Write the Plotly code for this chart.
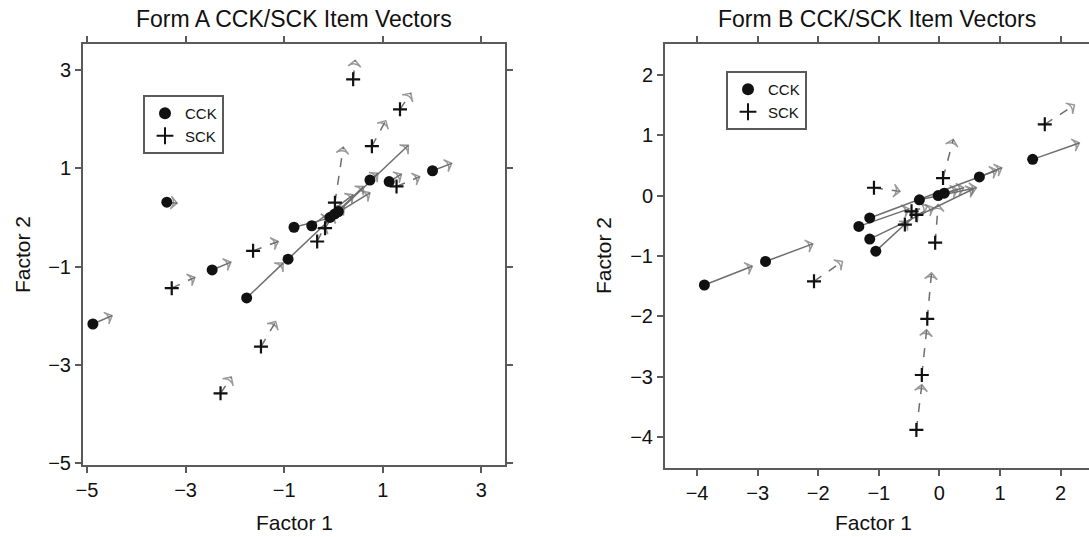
import plotly.graph_objects as go

# ---------------- data ----------------
# Form A : CCK items (start -> end of vector)
A_CCK_X0 = [-4.88, -3.38, -2.46, -1.76, -0.92, 0.74, -0.80, -0.44, -0.07, 0.03, 0.10, 1.13, 2.01]
A_CCK_Y0 = [-2.17, 0.31, -1.07, -1.64, -0.85, 0.76, -0.20, -0.17, 0.00, 0.07, 0.12, 0.73, 0.95]
A_CCK_X1 = [-4.49, -3.17, -2.08, -1.02, 1.52, 0.90, -0.10, 0.40, 0.74, 0.61, 0.22, 1.38, 2.40]
A_CCK_Y1 = [-2.00, 0.29, -0.91, -0.93, 1.47, 0.90, -0.02, 0.46, 0.50, 0.63, 0.22, 0.88, 1.10]
# Form A : SCK items
A_SCK_X0 = [-3.28, -1.63, -1.47, -2.29, -0.33, 0.40, 1.35, 0.78, 0.03, 1.28, -0.17]
A_SCK_Y0 = [-1.44, -0.68, -2.63, -3.58, -0.49, 2.81, 2.20, 1.45, 0.30, 0.63, -0.22]
A_SCK_X1 = [-2.81, -1.12, -1.17, -2.07, -0.17, 0.44, 1.57, 1.06, 0.20, 1.75, 0.00]
A_SCK_Y1 = [-1.22, -0.49, -2.12, -3.25, -0.17, 3.20, 2.53, 1.97, 1.43, 0.83, 0.05]

# Form B : CCK items
B_CCK_X0 = [-3.88, -2.87, -1.33, -1.15, -1.15, -1.05, -0.33, -0.02, 0.08, 0.66, 1.54]
B_CCK_Y0 = [-1.48, -1.09, -0.51, -0.37, -0.72, -0.92, -0.07, 0.00, 0.04, 0.31, 0.60]
B_CCK_X1 = [-3.09, -2.09, -0.50, 0.95, 0.56, -0.52, 0.61, 0.30, 0.40, 1.03, 2.31]
B_CCK_Y1 = [-1.17, -0.80, -0.22, 0.42, 0.11, -0.43, 0.13, 0.10, 0.13, 0.46, 0.87]
# Form B : SCK items
B_SCK_X0 = [-2.07, -0.38, -0.29, -0.20, -0.07, 0.06, -1.08, 1.74, -0.46, -0.38, -0.57]
B_SCK_Y0 = [-1.42, -3.88, -2.97, -2.04, -0.78, 0.29, 0.13, 1.18, -0.26, -0.32, -0.48]
B_SCK_X1 = [-1.60, -0.29, -0.21, -0.13, -0.02, 0.23, -0.65, 2.23, -0.20, -0.10, -0.35]
B_SCK_Y1 = [-1.09, -3.13, -2.22, -1.28, -0.15, 0.93, 0.07, 1.50, -0.18, -0.20, -0.30]

A_TICKS = [-5, -3, -1, 1, 3]
B_TICKS = [-4, -3, -2, -1, 0, 1, 2]
TITLES = ["Form A CCK/SCK Item Vectors", "Form B CCK/SCK Item Vectors"]
SERIES = ["CCK", "SCK"]

# ---------------- styling ----------------
FONT = "Liberation Sans, Arial, Helvetica, sans-serif"
ARROW_COLOR = "#6e6e6e"
AXIS_COLOR = "#5a5a5a"
W, H = 1089, 537

fig = go.Figure()


def add_vectors(x0, y0, x1, y1, xa, ya, dash):
    for a, b, c, d in zip(x0, y0, x1, y1):
        fig.add_trace(go.Scatter(
            x=[a, c], y=[b, d], xaxis=xa, yaxis=ya,
            mode="lines+markers",
            line=dict(color=ARROW_COLOR, width=1.5, dash=dash),
            marker=dict(symbol=["circle", "arrow-wide-open"], size=[0, 9],
                        angleref="previous",
                        color=ARROW_COLOR, line=dict(color=ARROW_COLOR, width=1.5)),
            showlegend=False, hoverinfo="skip"))


def add_points(x, y, xa, ya, kind, legend):
    if kind == "CCK":
        mk = dict(symbol="circle", size=11, color="#111111")
    else:
        mk = dict(symbol="cross-thin", size=10, color="#111111",
                  line=dict(color="#111111", width=2.2))
    fig.add_trace(go.Scatter(x=x, y=y, xaxis=xa, yaxis=ya, mode="markers",
                             marker=mk, name=kind, legend=legend))


add_vectors(A_CCK_X0, A_CCK_Y0, A_CCK_X1, A_CCK_Y1, "x", "y", "solid")
add_vectors(A_SCK_X0, A_SCK_Y0, A_SCK_X1, A_SCK_Y1, "x", "y", "dash")
add_vectors(B_CCK_X0, B_CCK_Y0, B_CCK_X1, B_CCK_Y1, "x2", "y2", "solid")
add_vectors(B_SCK_X0, B_SCK_Y0, B_SCK_X1, B_SCK_Y1, "x2", "y2", "dash")
add_points(A_CCK_X0, A_CCK_Y0, "x", "y", SERIES[0], "legend")
add_points(A_SCK_X0, A_SCK_Y0, "x", "y", SERIES[1], "legend")
add_points(B_CCK_X0, B_CCK_Y0, "x2", "y2", SERIES[0], "legend2")
add_points(B_SCK_X0, B_SCK_Y0, "x2", "y2", SERIES[1], "legend2")

axis_common = dict(showgrid=False, zeroline=False, showline=True, automargin=False,
                   linecolor=AXIS_COLOR, linewidth=2, ticks="outside",
                   ticklen=6, tickwidth=1.5, tickcolor=AXIS_COLOR,
                   tickfont=dict(family=FONT, size=20, color="#111111"))

legend_common = dict(bgcolor="white", bordercolor=AXIS_COLOR, borderwidth=2,
                     font=dict(family=FONT, size=15, color="#111111"),
                     xanchor="left", yanchor="top", tracegroupgap=0,
                     itemsizing="constant")

fig.update_layout(
    width=W, height=H, plot_bgcolor="white", paper_bgcolor="white",
    margin=dict(l=0, r=0, t=0, b=0, autoexpand=False),
    xaxis=dict(domain=[83 / W, 505 / W], range=[-5.08, 3.48], tickvals=A_TICKS,
               mirror="ticks", anchor="y", **axis_common),
    yaxis=dict(domain=[1 - 465 / H, 1 - 44 / H], range=[-5.04, 3.53], tickvals=A_TICKS,
               mirror="ticks", anchor="x", **axis_common),
    xaxis2=dict(domain=[665 / W, 1.0], range=[-4.53, 2.47], tickvals=B_TICKS,
                mirror="ticks", anchor="y2", **axis_common),
    yaxis2=dict(domain=[1 - 468 / H, 1 - 44 / H], range=[-4.51, 2.51], tickvals=B_TICKS,
                mirror=False, anchor="x2", **axis_common),
    legend=dict(x=143 / W, y=1 - 95 / H, **legend_common),
    legend2=dict(x=726 / W, y=1 - 71 / H, **legend_common),
    showlegend=True,
)


def ann(text, px, py, size, angle=0):
    return dict(text=text, x=px / W, y=1 - py / H, xref="paper", yref="paper",
                xanchor="center", yanchor="middle", showarrow=False,
                textangle=angle, font=dict(family=FONT, size=size, color="#111111"))


annotations = [
    ann(TITLES[0], 294, 19, 23),
    ann(TITLES[1], 877, 19, 23),
    ann("Factor 1", 294, 522, 21),
    ann("Factor 1", 873, 522, 21),
    ann("Factor 2", 22, 255, 21, -90),
    ann("Factor 2", 604, 256, 21, -90),
]
fig.update_layout(annotations=annotations)

fig.write_html("out.html",
               config={"displayModeBar": False},
               post_script="document.body.style.margin='0px';"
                           "document.body.style.overflow='hidden';")
